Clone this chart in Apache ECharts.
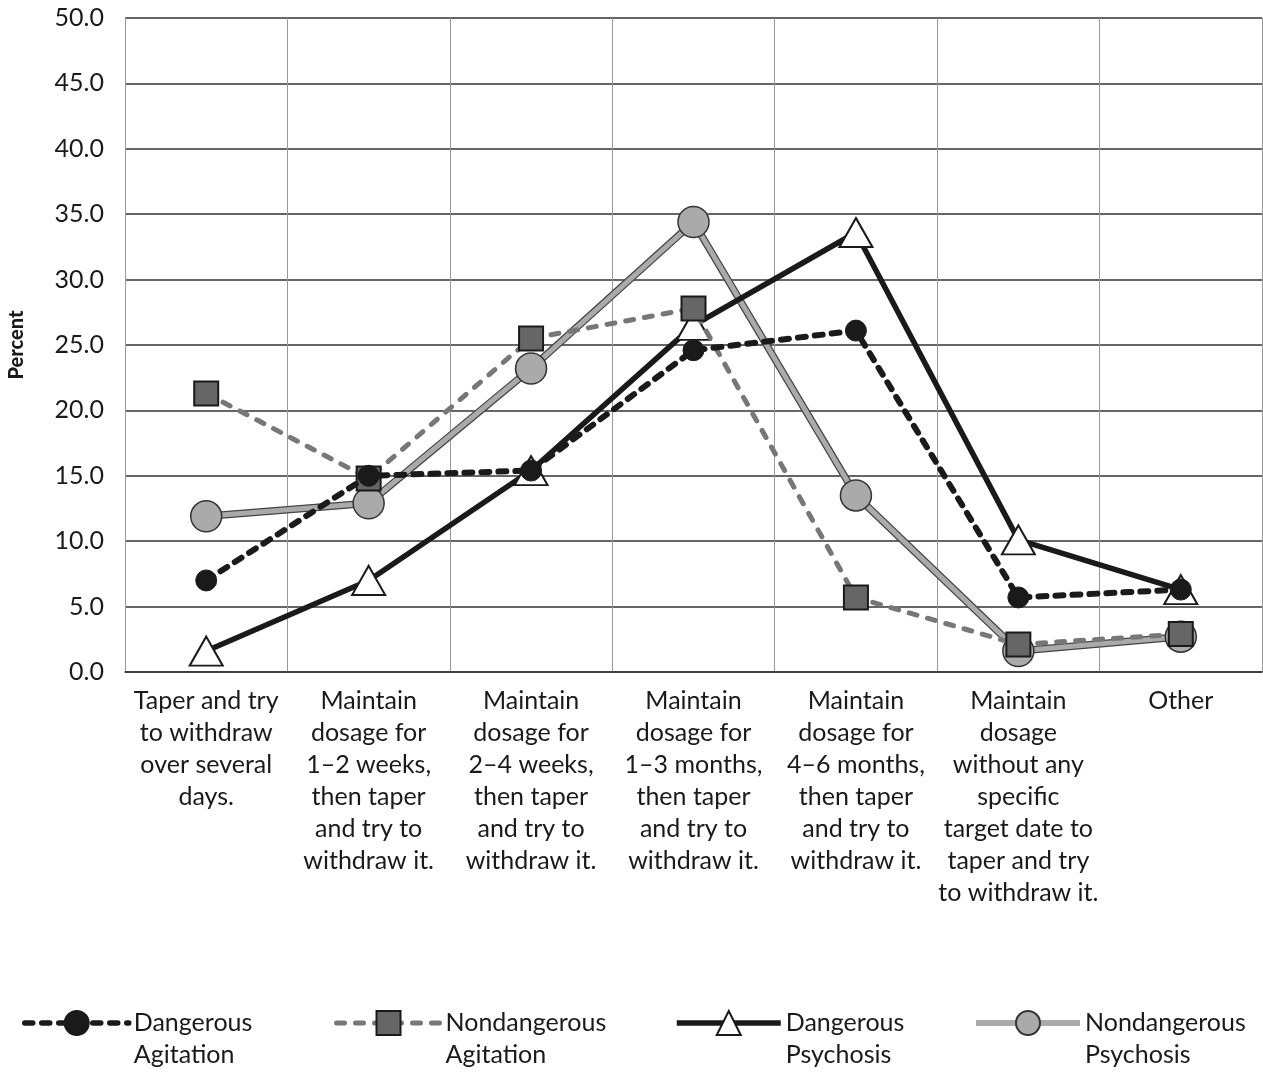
<!DOCTYPE html>
<html>
<head>
<meta charset="utf-8">
<script src="https://cdn.jsdelivr.net/npm/echarts@6/dist/echarts.min.js"></script>
<style>
  html, body { margin:0; padding:0; background:#fff; }
  #chart { width:1263px; height:1072px; }
</style>
</head>
<body>
<div id="chart"></div>
<script>
  var categories = [
    'Taper and try\nto withdraw\nover several\ndays.',
    'Maintain\ndosage for\n1\u20132 weeks,\nthen taper\nand try to\nwithdraw it.',
    'Maintain\ndosage for\n2\u20134 weeks,\nthen taper\nand try to\nwithdraw it.',
    'Maintain\ndosage for\n1\u20133 months,\nthen taper\nand try to\nwithdraw it.',
    'Maintain\ndosage for\n4\u20136 months,\nthen taper\nand try to\nwithdraw it.',
    'Maintain\ndosage\nwithout any\nspecific\ntarget date to\ntaper and try\nto withdraw it.',
    'Other'
  ];
  var dangerousAgitation = [7.0, 15.0, 15.4, 24.6, 26.1, 5.7, 6.3];
  var nondangerousAgitation = [21.3, 14.8, 25.5, 27.8, 5.7, 2.1, 2.9];
  var dangerousPsychosis = [1.6, 7.0, 15.4, 26.5, 33.6, 10.1, 6.3];
  var nondangerousPsychosis = [11.9, 12.9, 23.2, 34.4, 13.5, 1.6, 2.7];

  var FONT = 'Lato';
  var chart = echarts.init(document.getElementById('chart'));

  // one legend per item so each can sit where the original has it;
  // a blank first line keeps the icon level with the first word
  function legendAt(name, left, lw) {
    return {
      data: [{ name: name, lineStyle: { width: lw } }],
      left: left,
      top: 975,
      padding: 0,
      itemWidth: 104,
      itemHeight: 30,
      itemGap: 0,
      formatter: function (n) { return ' \n' + n.replace(' ', '\n'); },
      textStyle: { fontFamily: FONT, fontSize: 25, color: '#1a1a1a', lineHeight: 32 }
    };
  }

  chart.setOption({
    animation: false,
    backgroundColor: '#fff',
    grid: { left: 125, right: 1, top: 18, bottom: 400, outerBoundsMode: 'none', containLabel: false },
    legend: [
      legendAt('Dangerous Agitation', 22, 5.5),
      legendAt('Nondangerous Agitation', 334, 5),
      legendAt('Dangerous Psychosis', 674, 5.5),
      legendAt('Nondangerous Psychosis', 973, 6)
    ],
    xAxis: {
      type: 'category',
      data: categories,
      boundaryGap: true,
      axisLine: { lineStyle: { color: '#333', width: 1.5 } },
      axisTick: { show: false },
      splitLine: { show: true, lineStyle: { color: '#999', width: 1 } },
      axisLabel: {
        interval: 0, margin: 13,
        fontFamily: FONT, fontSize: 25, color: '#1a1a1a', lineHeight: 32, align: 'center'
      }
    },
    yAxis: {
      type: 'value',
      min: 0, max: 50, interval: 5,
      name: 'Percent',
      nameLocation: 'middle',
      nameGap: 98,
      nameTextStyle: { fontFamily: FONT, fontSize: 20, fontWeight: 900, color: '#1a1a1a' },
      axisLine: { show: true, lineStyle: { color: '#999', width: 1 } },
      axisTick: { show: false },
      splitLine: { lineStyle: { color: '#333', width: 1.5 } },
      axisLabel: {
        margin: 21,
        fontFamily: FONT, fontSize: 25, color: '#1a1a1a',
        formatter: function (v) { return v.toFixed(1); }
      }
    },
    series: [
      {
        // dark edge under the grey psychosis line
        name: 'Nondangerous Psychosis edge', type: 'line', z: 1,
        data: nondangerousPsychosis,
        symbol: 'none', silent: true,
        lineStyle: { color: '#444', width: 7.5 }
      },
      {
        name: 'Nondangerous Psychosis', type: 'line', z: 2,
        data: nondangerousPsychosis,
        symbol: 'circle', symbolSize: 31,
        lineStyle: { color: '#aaa', width: 5 },
        itemStyle: { color: '#aaa', borderColor: '#333', borderWidth: 1.5 }
      },
      {
        name: 'Dangerous Psychosis', type: 'line', z: 3,
        data: dangerousPsychosis,
        symbol: 'triangle', symbolSize: [33, 29],
        lineStyle: { color: '#1a1a1a', width: 5.5 },
        itemStyle: { color: '#fff', borderColor: '#1a1a1a', borderWidth: 2 }
      },
      {
        name: 'Nondangerous Agitation', type: 'line', z: 4,
        data: nondangerousAgitation,
        symbol: 'rect', symbolSize: 24,
        lineStyle: { color: '#777', width: 5, type: [8, 11], cap: 'round' },
        itemStyle: { color: '#666', borderColor: '#1a1a1a', borderWidth: 2 }
      },
      {
        name: 'Dangerous Agitation', type: 'line', z: 5,
        data: dangerousAgitation,
        symbol: 'circle', symbolSize: 21,
        lineStyle: { color: '#1a1a1a', width: 6, type: [8, 9], cap: 'round' },
        itemStyle: { color: '#1a1a1a', borderColor: '#1a1a1a', borderWidth: 1 }
      }
    ]
  });
</script>
</body>
</html>
